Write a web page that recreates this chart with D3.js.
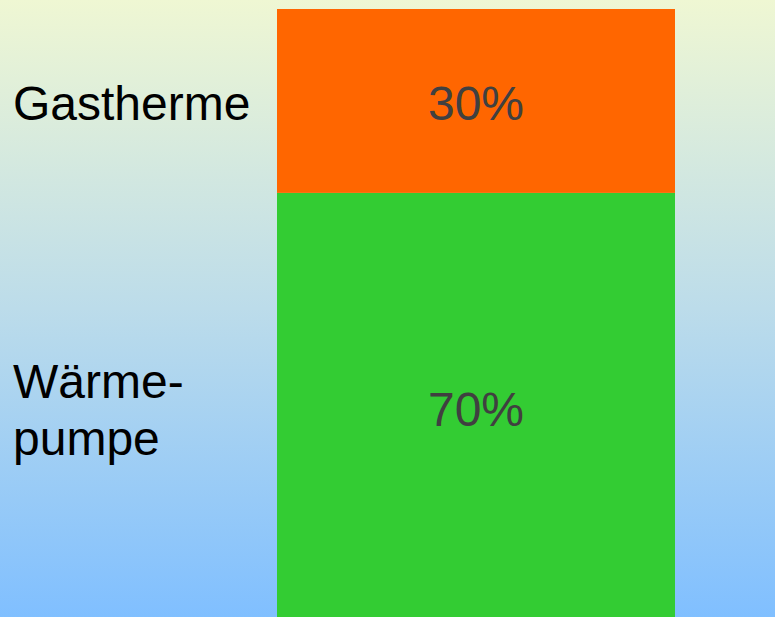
<!DOCTYPE html>
<html>
<head>
<meta charset="utf-8">
<script src="https://cdn.jsdelivr.net/npm/d3@7"></script>
<style>
  html, body { margin: 0; padding: 0; overflow: hidden; }
  svg { display: block; }
</style>
</head>
<body>
<svg id="chart" width="775" height="617"></svg>
<script>
// ---- data ----
const categories = ["Wärmepumpe", "Gastherme"];          // bottom to top
const categoryLabelLines = [["Wärme-", "pumpe"], ["Gastherme"]];
const values = [70, 30];                                  // percent
const valueLabels = ["70%", "30%"];
const barName = ["Heizung"];

// ---- styles ----
const segColors = ["#33cc33", "#ff6600"];
const W = 775, H = 617;
const fontFamily = "'Liberation Sans', Arial, sans-serif";
const fontSize = 48;

const svg = d3.select("#chart");

// background gradient
const defs = svg.append("defs");
const grad = defs.append("linearGradient").attr("id", "bg")
  .attr("x1", 0).attr("y1", 0).attr("x2", 0).attr("y2", 1);
grad.append("stop").attr("offset", "0%").attr("stop-color", "#eff7d3");
grad.append("stop").attr("offset", "50%").attr("stop-color", "#bcdcea");
grad.append("stop").attr("offset", "100%").attr("stop-color", "#80bfff");
svg.append("rect").attr("width", W).attr("height", H).attr("fill", "url(#bg)");

// scales
const x = d3.scaleBand().domain(barName).range([277, 675]).padding(0);
const y = d3.scaleLinear().domain([0, 100]).range([622, 9]);

// stack
let acc = 0;
const segs = values.map((v, i) => {
  const s = { cat: categories[i], y0: acc, y1: acc + v, v, i };
  acc += v;
  return s;
});

svg.append("g").selectAll("rect").data(segs).join("rect")
  .attr("x", x(barName[0]))
  .attr("width", x.bandwidth())
  .attr("y", d => y(d.y1))
  .attr("height", d => y(d.y0) - y(d.y1))
  .attr("fill", d => segColors[d.i]);

// value labels
svg.append("g").selectAll("text").data(segs).join("text")
  .attr("x", x(barName[0]) + x.bandwidth() / 2)
  .attr("y", d => (y(d.y0) + y(d.y1)) / 2 + 19)
  .attr("text-anchor", "middle")
  .attr("font-family", fontFamily)
  .attr("font-size", fontSize)
  .attr("fill", "#404040")
  .text(d => valueLabels[d.i]);

// category labels
const lineH = 57;
const lab = svg.append("g").selectAll("text").data(segs).join("text")
  .attr("font-family", fontFamily)
  .attr("font-size", fontSize)
  .attr("fill", "#000");
lab.each(function(d) {
  const lines = categoryLabelLines[d.i];
  const cy = (y(d.y0) + y(d.y1)) / 2;
  const firstBase = cy + 19 - (lines.length - 1) * lineH / 2;
  d3.select(this).selectAll("tspan").data(lines).join("tspan")
    .attr("x", 13)
    .attr("y", (t, k) => firstBase + k * lineH)
    .text(t => t);
});
</script>
</body>
</html>
